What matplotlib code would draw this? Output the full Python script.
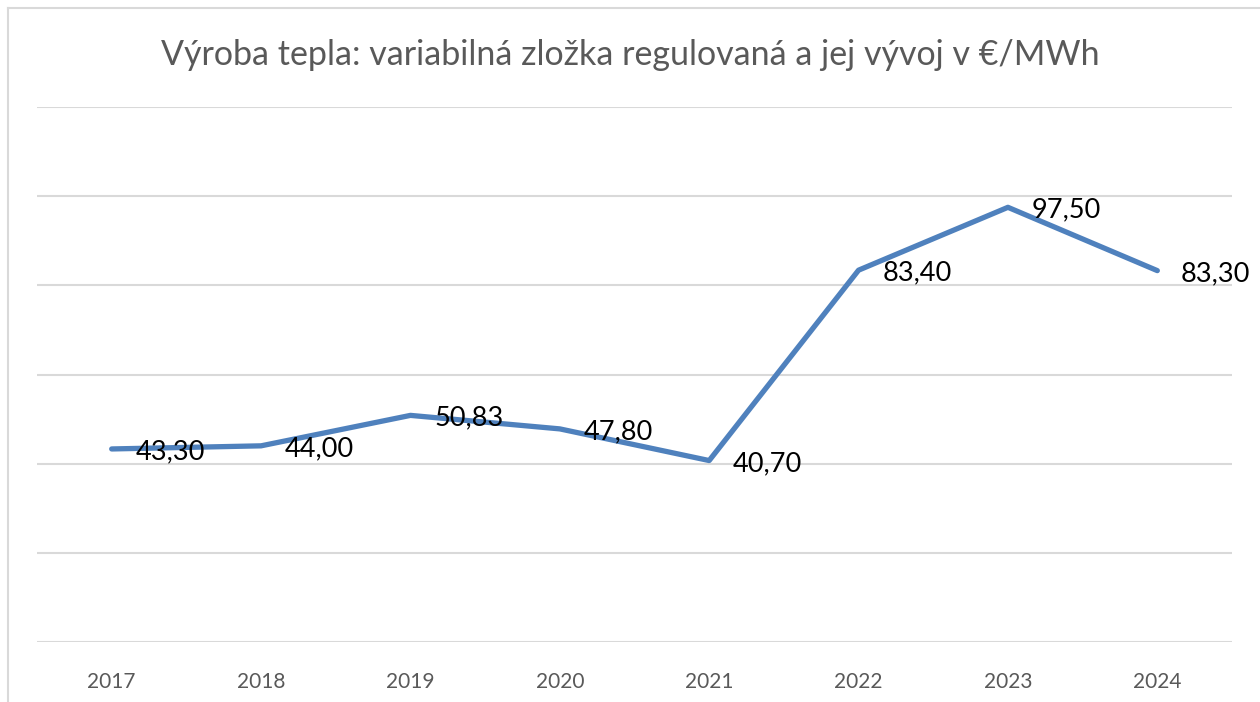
import matplotlib.pyplot as plt
from matplotlib.lines import Line2D

years = ['2017', '2018', '2019', '2020', '2021', '2022', '2023', '2024']
values = [43.30, 44.00, 50.83, 47.80, 40.70, 83.40, 97.50, 83.30]
value_labels = ['43,30', '44,00', '50,83', '47,80', '40,70', '83,40', '97,50', '83,30']

TITLE = 'Výroba tepla: variabilná zložka regulovaná a jej vývoj v €/MWh'
LINE_COLOR = '#4f81bd'
GRID_COLOR = '#d9d9d9'
TEXT_COLOR = '#595959'

plt.rcParams['font.family'] = ['Lato', 'DejaVu Sans']

fig = plt.figure(figsize=(12.6, 7.02), dpi=100)
ax = fig.add_axes([37 / 1260, 1 - 642 / 702, (1232 - 37) / 1260, (642 - 107) / 702])

x = list(range(len(years)))
ax.plot(x, values, color=LINE_COLOR, linewidth=3.8, solid_capstyle='round', zorder=3)

for xi, v, lab in zip(x, values, value_labels):
    ax.annotate(
        lab,
        (xi, v),
        xytext=(17, -2),
        textcoords='offset points',
        ha='left',
        va='center',
        fontsize=19.5,
        color='black',
        zorder=4
    )

ax.set_xlim(-0.5, len(years) - 0.5)
ax.set_ylim(0, 120)
ax.set_yticks(range(0, 121, 20))
ax.yaxis.grid(True, color=GRID_COLOR, linewidth=1.5)
ax.set_axisbelow(True)
ax.tick_params(axis='y', left=False, labelleft=False)
ax.set_xticks(x)
ax.set_xticklabels(years)
ax.tick_params(axis='x', bottom=False, pad=18, labelsize=15, labelcolor=TEXT_COLOR)
for side in ['left', 'right', 'top', 'bottom']:
    ax.spines[side].set_visible(False)

fig.text(0.5, 1 - 55 / 702, TITLE, ha='center', va='center', fontsize=24.5, color=TEXT_COLOR)

# chart border (only left and top edges are visible in the crop)
fig.add_artist(Line2D([8 / 1260, 8 / 1260], [0, 1 - 8 / 702], color=GRID_COLOR, linewidth=1.5))
fig.add_artist(Line2D([8 / 1260, 1], [1 - 8 / 702, 1 - 8 / 702], color=GRID_COLOR, linewidth=1.5))

fig.savefig('out.png', dpi=100)
